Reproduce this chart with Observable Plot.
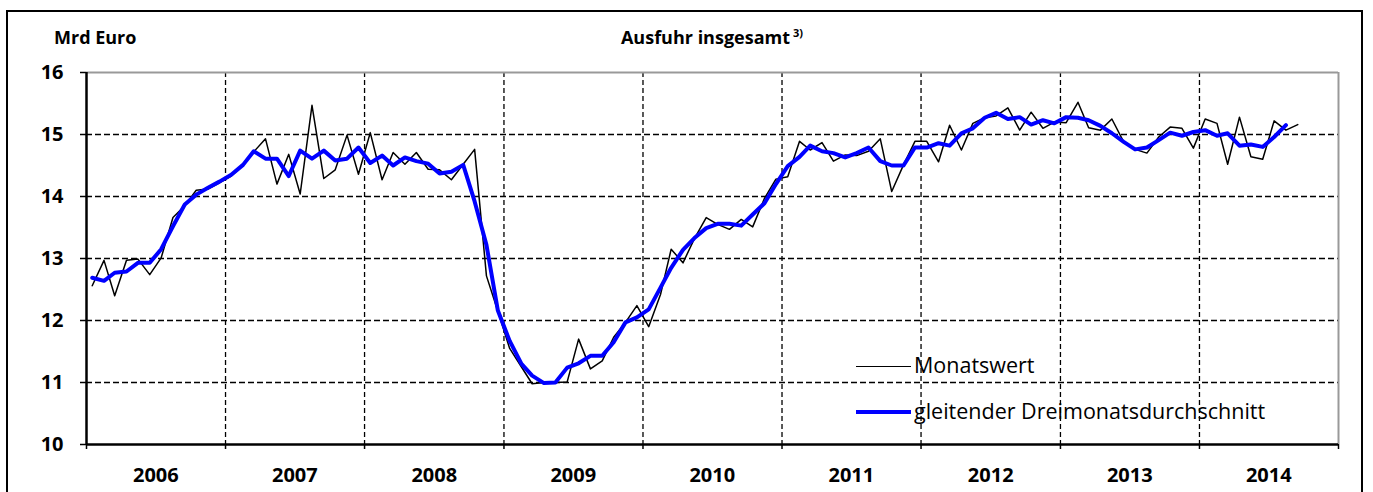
<!DOCTYPE html>
<html>
<head>
<meta charset="utf-8">
<script src="https://cdn.jsdelivr.net/npm/d3@7"></script>
<script src="https://cdn.jsdelivr.net/npm/@observablehq/plot@0.6"></script>
<style>
  html, body { margin: 0; padding: 0; background: #fff; }
  #wrap { position: relative; width: 1373px; height: 492px; overflow: hidden; font-family: "Open Sans", sans-serif; }
  #border { position: absolute; left: 6px; top: 10px; width: 1357px; height: 500px; border: 2px solid #000; box-sizing: border-box; }
  .lbl { position: absolute; white-space: nowrap; color: #000; line-height: 1; }
  #unit { left: 54px; top: 28px; font-size: 18px; font-weight: bold; }
  #title { left: 0; width: 1424px; text-align: center; top: 27px; font-size: 18px; font-weight: bold; }
  #title sup { font-size: 11px; vertical-align: 7px; margin-left: 3px; }
  .leg { position: absolute; font-size: 21.5px; line-height: 1; white-space: nowrap; }
  .sw { position: absolute; }
  #chart { position: absolute; left: 0; top: 0; }
</style>
</head>
<body>
<div id="wrap">
  <div id="chart"></div>
  <div id="border"></div>
  <div class="lbl" id="unit">Mrd Euro</div>
  <div class="lbl" id="title">Ausfuhr insgesamt<sup>3)</sup></div>
  <div class="sw" style="left:856px; top:366px; width:55px; height:0; border-top:1.5px solid #000;"></div>
  <div class="leg" style="left:914px; top:354px;">Monatswert</div>
  <div class="sw" style="left:856px; top:410px; width:55px; height:4px; background:#0000ff;"></div>
  <div class="leg" style="left:914px; top:400px;">gleitender Dreimonatsdurchschnitt</div>
</div>
<script>
// Months Jan 2006 .. Sep 2014
const startYear = 2006;
const monatswert = [
  12.56, 12.97, 12.40, 12.97, 12.99, 12.74, 13.01, 13.66, 13.85, 14.10, 14.12, 14.22,
  14.33, 14.50, 14.72, 14.93, 14.20, 14.68, 14.04, 15.47, 14.29, 14.43, 14.99, 14.36,
  15.03, 14.27, 14.71, 14.52, 14.71, 14.44, 14.43, 14.27, 14.52, 14.76, 12.72, 12.15,
  11.55, 11.25, 10.98, 11.00, 11.00, 11.01, 11.70, 11.22, 11.35, 11.73, 11.97, 12.24,
  11.90, 12.42, 13.15, 12.93, 13.32, 13.66, 13.55, 13.47, 13.63, 13.51, 13.97, 14.28,
  14.32, 14.89, 14.75, 14.87, 14.57, 14.67, 14.66, 14.73, 14.93, 14.08, 14.51, 14.89,
  14.89, 14.56, 15.15, 14.75, 15.18, 15.27, 15.30, 15.43, 15.07, 15.36, 15.10, 15.20,
  15.19, 15.52, 15.11, 15.07, 15.25, 14.88, 14.76, 14.70, 14.96, 15.12, 15.10, 14.78,
  15.25, 15.18, 14.52, 15.28, 14.64, 14.60, 15.22, 15.07, 15.16
];
// Jan 2006 .. Aug 2014
const dreimonatsdurchschnitt = [
  12.69, 12.64, 12.77, 12.79, 12.93, 12.93, 13.15, 13.52, 13.87, 14.03, 14.14, 14.24,
  14.35, 14.51, 14.73, 14.61, 14.61, 14.33, 14.74, 14.61, 14.74, 14.58, 14.61, 14.79,
  14.54, 14.66, 14.50, 14.63, 14.57, 14.53, 14.37, 14.40, 14.51, 13.92, 13.22, 12.16,
  11.67, 11.30, 11.11, 10.99, 11.00, 11.24, 11.31, 11.43, 11.43, 11.65, 11.97, 12.05,
  12.18, 12.53, 12.85, 13.14, 13.33, 13.49, 13.56, 13.56, 13.53, 13.71, 13.89, 14.20,
  14.49, 14.64, 14.82, 14.73, 14.70, 14.63, 14.70, 14.79, 14.57, 14.50, 14.50, 14.79,
  14.79, 14.86, 14.82, 15.02, 15.10, 15.27, 15.35, 15.25, 15.28, 15.16, 15.23, 15.18,
  15.28, 15.27, 15.23, 15.14, 15.02, 14.88, 14.76, 14.79, 14.91, 15.03, 14.98, 15.04,
  15.07, 14.98, 15.02, 14.82, 14.84, 14.80, 14.96, 15.15
];
const years = [2006, 2007, 2008, 2009, 2010, 2011, 2012, 2013, 2014];
const yTicks = [10, 11, 12, 13, 14, 15, 16];
const seriesNames = ["Monatswert", "gleitender Dreimonatsdurchschnitt"];

const monthDate = i => new Date(Date.UTC(startYear + Math.floor(i / 12), i % 12, 16));
const dataM = monatswert.map((v, i) => ({date: monthDate(i), value: v}));
const dataD = dreimonatsdurchschnitt.map((v, i) => ({date: monthDate(i), value: v}));
const yearStart = y => new Date(Date.UTC(y, 0, 1));
const yearMid = y => new Date(Date.UTC(y, 6, 2));
const x0 = yearStart(years[0]);
const x1 = yearStart(years[years.length - 1] + 1);
const innerBounds = years.slice(1).map(yearStart);
const allBounds = [...years.map(yearStart), x1];

const chart = Plot.plot({
  width: 1373,
  height: 492,
  marginLeft: 86,
  marginRight: 35,
  marginTop: 72,
  marginBottom: 48,
  style: {fontFamily: "'Open Sans', sans-serif", background: "transparent"},
  x: {type: "utc", domain: [x0, x1]},
  y: {domain: [yTicks[0], yTicks[yTicks.length - 1]]},
  marks: [
    Plot.ruleY(yTicks.slice(1, -1), {stroke: "#000", strokeWidth: 1.3, strokeDasharray: "6,3"}),
    Plot.ruleX(innerBounds, {stroke: "#000", strokeWidth: 1.3, strokeDasharray: "5,3"}),
    Plot.ruleY([yTicks[yTicks.length - 1]], {stroke: "#999", strokeWidth: 2}),
    Plot.ruleX([x1], {stroke: "#999", strokeWidth: 2}),
    Plot.line(dataM, {x: "date", y: "value", stroke: "#000", strokeWidth: 1.5}),
    Plot.line(dataD, {x: "date", y: "value", stroke: "#0000ff", strokeWidth: 4}),
    Plot.ruleX([x0], {stroke: "#000", strokeWidth: 2.5}),
    Plot.ruleY([yTicks[0]], {stroke: "#000", strokeWidth: 2.5}),
    Plot.axisY({ticks: yTicks, tickSize: 6, tickPadding: 17, tickFormat: d => String(d),
      fontSize: 20, fontWeight: "bold", stroke: "#000", strokeWidth: 1.5, label: null}),
    Plot.axisX({ticks: allBounds, tickSize: 5, tickFormat: () => "", stroke: "#000", strokeWidth: 1.5, label: null}),
    Plot.axisX({ticks: years.map(yearMid), tickSize: 0, tickPadding: 23, tickFormat: d => String(d.getUTCFullYear()),
      fontSize: 20, fontWeight: "bold", label: null})
  ]
});
document.getElementById("chart").appendChild(chart);
</script>
</body>
</html>
